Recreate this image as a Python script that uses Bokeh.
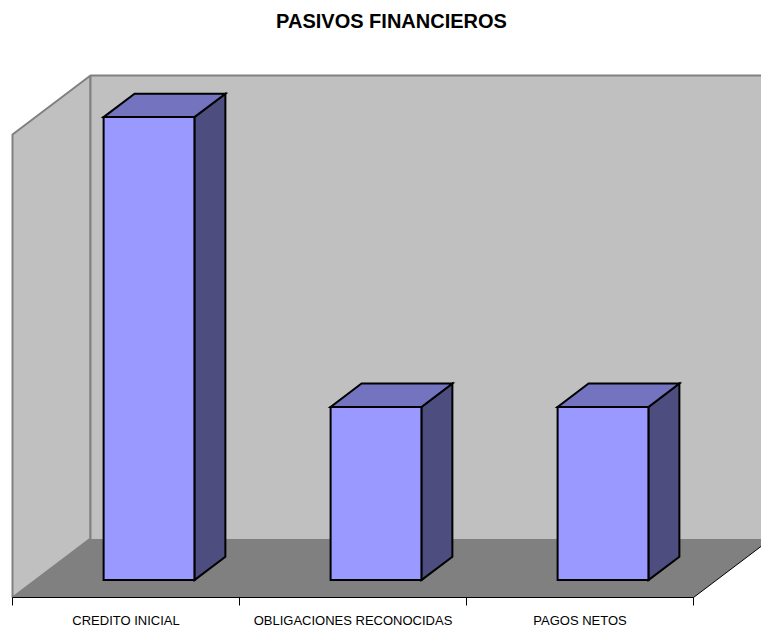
from bokeh.embed import file_html
from bokeh.resources import INLINE
from bokeh.plotting import figure
from bokeh.models import LinearAxis, FixedTicker, Range1d

categories = ["CREDITO INICIAL", "OBLIGACIONES RECONOCIDAS", "PAGOS NETOS"]
values = [100.0, 37.4, 37.4]
title_text = "PASIVOS FINANCIEROS"

AXIS_MAX = 100.0
BAR_WIDTH = 0.4
DEPTH_X = 0.3436      # category units
DEPTH_Y = 12.74       # value units
BAR_D0 = 0.295
BAR_D1 = 0.692

WALL = "#C0C0C0"
FLOOR = "#808080"
EDGE = "#808080"
FRONT = "#9999FF"
TOP = "#7373BF"
SIDE = "#4D4D80"

# pixel scales
PX_X = 227.0
PX_Y = 4.63
FIG_W, FIG_H = 761, 628
X0_PX, Y0_PX = 12, 597

x_range = Range1d(-X0_PX / PX_X, (FIG_W - X0_PX) / PX_X)
y_range = Range1d((Y0_PX - FIG_H) / PX_Y, Y0_PX / PX_Y)

p = figure(width=FIG_W, height=FIG_H, x_range=x_range, y_range=y_range,
           output_backend="svg", toolbar_location=None,
           x_axis_location=None, y_axis_location=None,
           min_border=0, outline_line_color=None, background_fill_color="white")
p.xgrid.visible = False
p.ygrid.visible = False


def proj(x, v, d):
    return x + d * DEPTH_X, v + d * DEPTH_Y


n = len(categories)

# floor
fx, fy = zip(*[proj(0, 0, 0), proj(n, 0, 0), proj(n, 0, 1), proj(0, 0, 1)])
p.patch(list(fx), list(fy), fill_color=FLOOR, line_color=None)
# side wall
sx, sy = zip(*[proj(0, 0, 0), proj(0, AXIS_MAX, 0), proj(0, AXIS_MAX, 1), proj(0, 0, 1)])
p.patch(list(sx), list(sy), fill_color=WALL, line_color=EDGE, line_width=2)
# back wall
bx, by = zip(*[proj(0, 0, 1), proj(0, AXIS_MAX, 1), proj(n, AXIS_MAX, 1), proj(n, 0, 1)])
p.patch(list(bx), list(by), fill_color=WALL, line_color=None)
ex, ey = zip(*[proj(0, 0, 1), proj(0, AXIS_MAX, 1), proj(n, AXIS_MAX, 1)])
p.line(list(ex), list(ey), line_color=EDGE, line_width=2)
# right floor edge
rx, ry = zip(*[proj(n, 0, 0), proj(n, 0, 1)])
p.line(list(rx), list(ry), line_color="black", line_width=1)

# bars
for i, val in enumerate(values):
    l = i + 0.5 - BAR_WIDTH / 2
    r = i + 0.5 + BAR_WIDTH / 2
    side = [proj(r, 0, BAR_D0), proj(r, 0, BAR_D1), proj(r, val, BAR_D1), proj(r, val, BAR_D0)]
    top = [proj(l, val, BAR_D0), proj(r, val, BAR_D0), proj(r, val, BAR_D1), proj(l, val, BAR_D1)]
    front = [proj(l, 0, BAR_D0), proj(r, 0, BAR_D0), proj(r, val, BAR_D0), proj(l, val, BAR_D0)]
    for pts, col in ((side, SIDE), (top, TOP), (front, FRONT)):
        xs, ys = zip(*pts)
        p.patch(list(xs), list(ys), fill_color=col, line_color="black", line_width=2,
                line_join="miter")

# axis with tick marks at the category boundaries
tick_axis = LinearAxis(ticker=FixedTicker(ticks=list(range(n + 1))), fixed_location=0, bounds=(0, n))
tick_axis.major_label_text_font_size = "0px"
tick_axis.major_label_text_color = None
tick_axis.major_tick_in = 0
tick_axis.major_tick_out = 8
tick_axis.minor_tick_line_color = None
tick_axis.axis_line_color = "black"
tick_axis.major_tick_line_color = "black"
p.add_layout(tick_axis, "below")

# axis carrying the category labels
label_axis = LinearAxis(ticker=FixedTicker(ticks=[i + 0.5 for i in range(n)]), fixed_location=0)
label_axis.major_label_overrides = {i + 0.5: c for i, c in enumerate(categories)}
label_axis.major_tick_line_color = None
label_axis.minor_tick_line_color = None
label_axis.axis_line_color = None
label_axis.major_tick_in = 0
label_axis.major_tick_out = 0
label_axis.major_label_standoff = 15
label_axis.major_label_text_font = "Liberation Sans"
label_axis.major_label_text_font_size = "13px"
label_axis.major_label_text_color = "black"
p.add_layout(label_axis, "below")

# chart title drawn over the empty band at the top of the frame
p.text(x=[(391 - X0_PX) / PX_X], y=[(Y0_PX - 20) / PX_Y], text=[title_text],
       text_font={"value": "Liberation Sans"}, text_font_style="bold",
       text_font_size="20px", text_align="center", text_baseline="middle",
       text_color="black")

open("out.html", "w").write(file_html(p, INLINE))
